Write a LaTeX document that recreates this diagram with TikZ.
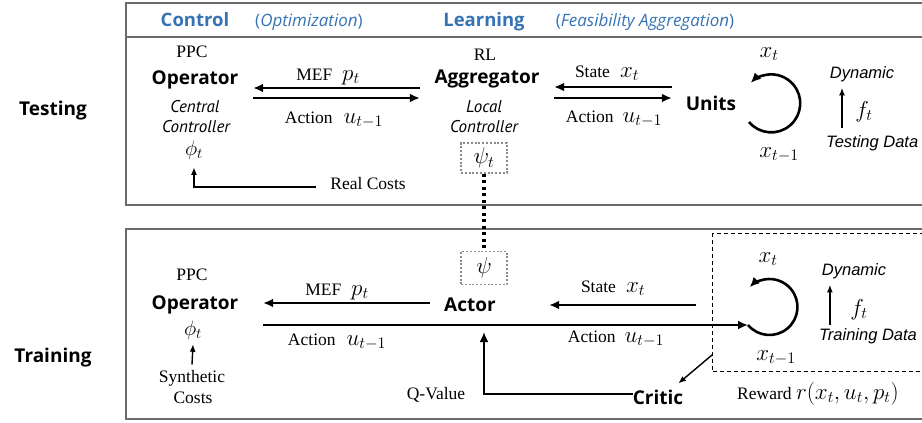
\RequirePackage{fix-cm}
\documentclass[tikz,border=0pt]{standalone}
\usepackage{fontspec}
\setmainfont{Liberation Serif}
\newfontfamily\humsans{PT Sans}
\newfontfamily\opensans{Open Sans}
\newfontfamily\grotesk{Liberation Sans}
\usetikzlibrary{arrows.meta}
\definecolor{headblue}{HTML}{3573B5}
\definecolor{framegray}{HTML}{6B6B6B}
\definecolor{psigray}{HTML}{8A8A8A}
\newcommand{\mth}[1]{{\fontsize{23}{26}\selectfont$#1$}}

\begin{document}
\begin{tikzpicture}[x=1pt,y=-1pt,
  frame/.style={draw=framegray, line width=2.6pt},
  envbox/.style={draw=black, line width=1.4pt, dash pattern=on 4pt off 3pt, inner sep=0pt},
  arr/.style={-{Latex[length=10pt,width=9pt]}, line width=2.6pt},
  thinarr/.style={-{Latex[length=7.5pt,width=6pt]}, line width=1.4pt},
  dotconn/.style={line width=3.2pt, dash pattern=on 3pt off 3.5pt},
  serif/.style={font=\fontsize{17.5}{20}\selectfont, inner sep=0pt, anchor=base},
  bsans/.style={font=\opensans\bfseries\fontsize{19}{22}\selectfont, inner sep=0pt, anchor=base},
  isans/.style={font=\humsans\itshape\fontsize{17}{20}\selectfont, inner sep=0pt, anchor=base},
  grot/.style={font=\grotesk\itshape\fontsize{16.5}{20}\selectfont, inner sep=0pt, anchor=base},
  head/.style={font=\opensans\bfseries\fontsize{18.5}{22}\selectfont, text=headblue, inner sep=0pt, anchor=base},
  headit/.style={font=\opensans\fontsize{17}{22}\selectfont, text=headblue, inner sep=0pt, anchor=base},
  side/.style={font=\opensans\bfseries\fontsize{19}{24}\selectfont, inner sep=0pt, anchor=base},
  mathlbl/.style={font=\fontsize{23}{26}\selectfont, inner sep=0pt, anchor=base},
  philbl/.style={font=\fontsize{21}{24}\selectfont, inner sep=0pt, anchor=base},
  psibox/.style={draw=psigray, line width=1.6pt, dash pattern=on 2pt off 1.8pt,
    minimum width=46pt, inner sep=0pt, anchor=center, font=\fontsize{23}{26}\selectfont},
]
\useasboundingbox (0,0) rectangle (922,423);
\clip (0,0) rectangle (922,423);

% panels
\draw[frame] (126,3) rectangle (950,205);
\draw[frame] (126,37) -- (950,37);
\draw[frame] (126,229) rectangle (950,419);

% column headings
\node[head]   (ctl) at (195,27) {Control};
\node[headit] (opt) at (309,27) {(\textit{Optimization})};
\node[head]   (lrn) at (484,27) {Learning};
\node[headit] (fea) at (645,27) {(\textit{Feasibility Aggregation})};

% row labels
\node[side] (tst) at (53,115) {Testing};
\node[side] (trn) at (53,362) {Training};

% ---------- testing row ----------
\node[serif] (ppc1) at (192,57) {PPC};
\node[bsans, minimum width=116pt] (op1) at (195,84) {Operator};
\node[isans] (cen1) at (195,112) {Central};
\node[isans] (cen2) at (196,132) {Controller};
\node[philbl] (phi1) at (194,155) {$\phi_t$};
\node[serif] (rc) at (368,189) {Real Costs};

\node[serif] (rl) at (485,60) {RL};
\node[bsans, minimum width=134pt] (ag1) at (487,83) {Aggregator};
\node[isans] (loc1) at (484,112) {Local};
\node[isans] (loc2) at (484,132) {Controller};
\node[psibox, minimum height=30pt] (psi1) at (484,158) {$\psi_t$};

\node[bsans, minimum width=78pt] (un1) at (711,110) {Units};

\node[serif] (mef1) at (328,80) {MEF\hspace{10pt}\mth{p_t}};
\node[serif] (acl1) at (334,123) {Action\hspace{11pt}\mth{u_{t-1}}};
\node[serif] (st1)  at (607,77) {State\hspace{10pt}\mth{x_t}};
\node[serif] (acr1) at (614,122) {Action\hspace{9pt}\mth{u_{t-1}}};

\node[mathlbl] (xt1) at (769,57) {$x_t$};
\node[mathlbl] (xp1) at (779,157) {$x_{t-1}$};
\node[grot] (dyn1) at (862,78) {Dynamic};
\node[mathlbl] (f1) at (864,117) {$f_t$};
\node[grot, anchor=base west] (td1) at (826,147) {Testing Data};

\draw[arr] (ag1.west |- 0,88) -- (op1.east |- 0,88);
\draw[arr] (op1.east |- 0,98) -- (ag1.west |- 0,98);
\draw[arr] (un1.west |- 0,87) -- (ag1.east |- 0,87);
\draw[arr] (ag1.east |- 0,98) -- (un1.west |- 0,98);
\draw[thinarr] ([xshift=-14pt]rc.west |- 0,187) -| ([yshift=-8pt]phi1.south);

\coordinate (cyc1s) at (749,122);
\draw[arr] (cyc1s) arc[start angle=140, end angle=-135, radius=29];
\draw[thinarr] ([xshift=16pt,yshift=7pt]td1.north west) -- ++(0,-40);

% ---------- training row ----------
\node[envbox, anchor=north west, minimum width=250pt, minimum height=138pt] (env) at (712,233) {};

\node[serif] (ppc2) at (192,280) {PPC};
\node[bsans, minimum width=136pt] (op2) at (195,309) {Operator};
\node[philbl] (phi2) at (193,335) {$\phi_t$};
\node[serif] (syn) at (192,382) {Synthetic};
\node[serif] (cst) at (193,403) {Costs};

\node[psibox, minimum height=33pt] (psi2) at (484,268) {$\psi$};
\node[bsans, minimum width=80pt] (act) at (470,311) {Actor};
\node[bsans] (crit) at (658,404) {Critic};
\node[serif] (qv) at (436,399) {Q-Value};

% link between the two learned policies
\draw[dotconn] (psi1.south) -- (psi2.north);

\node[serif] (mef2) at (337,295) {MEF\hspace{10pt}\mth{p_t}};
\node[serif] (acl2) at (337,345) {Action\hspace{11pt}\mth{u_{t-1}}};
\node[serif] (st2)  at (613,292) {State\hspace{10pt}\mth{x_t}};
\node[serif] (acr2) at (616,342) {Action\hspace{9pt}\mth{u_{t-1}}};

\node[mathlbl] (xt2) at (768,262) {$x_t$};
\node[mathlbl] (xp2) at (776,360) {$x_{t-1}$};
\node[grot] (dyn2) at (854,275) {Dynamic};
\node[mathlbl] (f2) at (859,315) {$f_t$};
\node[grot] (td2) at (868,340) {Training Data};
\node[serif] (rew) at (818,399) {Reward \mth{r(x_t,u_t,p_t)}};

\draw[thinarr] ([yshift=5pt]syn.north) -- ([yshift=-5pt]phi2.south);
\draw[arr] (act.west |- 0,303) -- (op2.east |- 0,303);
\draw[arr] ([xshift=-16pt]env.west |- 0,305) -- ([xshift=39pt]act.east |- 0,305);

\coordinate (cyc2s) at (748,325);
\draw[arr] (op2.east |- cyc2s) -- (cyc2s);
\draw[arr] (cyc2s) arc[start angle=140, end angle=-135, radius=28];
\draw[thinarr] ([xshift=11pt,yshift=3pt]td2.north west) -- ++(0,-40);

\coordinate (qtip) at (484,332);
\draw[arr] (crit.west |- 0,394) -| (qtip);
\draw[thinarr] (env.west |- 0,355) -- ([xshift=-5pt,yshift=6pt]crit.north east);
\end{tikzpicture}
\end{document}
